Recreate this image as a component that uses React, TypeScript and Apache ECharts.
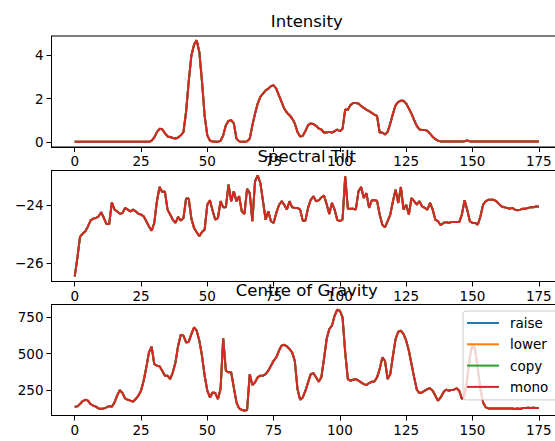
import React, { useEffect, useRef } from 'react';
import * as echarts from 'echarts';

// Frame index along the utterance (0..175)
const frames: number[] = Array.from({ length: 176 }, (_, i) => i);

const xTicks = [0, 25, 50, 75, 100, 125, 150, 175];

const intensity = [
  0, 0, 0, 0, 0, 0, 0, 0, 0, 0,
  0, 0, 0, 0, 0, 0, 0, 0, 0, 0,
  0, 0, 0, 0, 0, 0, 0, 0, 0, 0.05,
  0.2, 0.45, 0.6, 0.58, 0.4, 0.25, 0.22, 0.18, 0.15, 0.2,
  0.3, 0.45, 1.4, 2.8, 4.0, 4.5, 4.7, 4.15, 2.8, 1.2,
  0.3, 0.06, 0.01, 0, 0, 0.05, 0.3, 0.77, 0.97, 1.0,
  0.85, 0.15, 0.02, 0, 0, 0.02, 0.15, 0.77, 1.3, 1.77,
  2.08, 2.23, 2.38, 2.46, 2.58, 2.62, 2.46, 2.15, 1.85, 1.54,
  1.35, 1.23, 1.08, 0.85, 0.46, 0.25, 0.28, 0.5, 0.77, 0.85,
  0.83, 0.74, 0.62, 0.57, 0.43, 0.43, 0.46, 0.43, 0.49, 0.57,
  0.49, 0.6, 1.5, 1.48, 1.7, 1.8, 1.8, 1.77, 1.66, 1.57,
  1.49, 1.42, 1.34, 1.26, 1.2, 0.43, 0.43, 0.34, 0.46, 0.85,
  1.3, 1.69, 1.85, 1.9, 1.9, 1.77, 1.54, 1.3, 1.0, 0.74,
  0.57, 0.55, 0.55, 0.5, 0.38, 0.23, 0.12, 0.05, 0.02, 0.01,
  0.01, 0.01, 0.01, 0.01, 0.01, 0.01, 0.01, 0.03, 0.06, 0.02,
  0.01, 0.01, 0.01, 0.01, 0.01, 0.01, 0.01, 0.01, 0.01, 0.01,
  0.01, 0.01, 0.01, 0.01, 0.01, 0.01, 0.01, 0.01, 0.01, 0.01,
  0.01, 0.01, 0.01, 0.01, 0.01, 0.01,
];

const spectralTilt = [
  -26.46, -25.83, -25.1, -24.99, -24.91, -24.74, -24.53, -24.47, -24.45, -24.39,
  -24.25, -24.45, -24.66, -24.66, -23.91, -24.16, -24.22, -24.3, -24.28, -24.1,
  -24.16, -24.22, -24.16, -24.22, -24.3, -24.33, -24.39, -24.56, -24.74, -24.89,
  -24.62, -23.87, -23.38, -23.55, -23.53, -24.16, -24.33, -24.51, -24.62, -24.41,
  -24.54, -24.45, -23.78, -23.78, -24.47, -24.79, -24.94, -25.08, -24.93, -24.85,
  -23.99, -23.84, -24.2, -24.51, -24.45, -23.87, -24.08, -24.08, -23.3, -23.87,
  -23.53, -23.87, -23.7, -24.22, -24.31, -23.44, -23.59, -24.56, -23.18, -22.98,
  -23.24, -23.87, -24.51, -24.22, -24.56, -24.62, -24.28, -24.01, -23.87, -23.99,
  -24.16, -23.87, -24.08, -24.1, -24.1, -24.16, -24.54, -24.54, -24.1, -23.82,
  -23.7, -23.87, -23.84, -23.74, -23.67, -23.97, -24.31, -23.93, -24.16, -24.51,
  -24.56, -24.5, -23.01, -24.13, -24.13, -24.13, -24.16, -23.53, -23.38, -23.76,
  -23.59, -24.1, -23.84, -23.84, -23.85, -24.33, -24.68, -24.77, -24.56, -24.33,
  -23.87, -23.47, -23.93, -23.38, -24.16, -23.99, -24.33, -23.76, -23.87, -23.99,
  -23.87, -24.05, -24.1, -24.16, -23.93, -24.16, -24.51, -24.56, -24.7, -24.62,
  -24.59, -24.62, -24.59, -24.59, -24.59, -24.59, -24.33, -23.84, -24.16, -24.56,
  -24.62, -24.62, -24.68, -24.39, -23.99, -23.87, -23.82, -23.82, -23.82, -23.87,
  -23.97, -24.05, -24.08, -24.1, -24.13, -24.1, -24.16, -24.18, -24.16, -24.13,
  -24.13, -24.1, -24.08, -24.08, -24.05, -24.05,
];

const centreOfGravity = [
  139, 141, 157, 177, 186, 180, 157, 145, 139, 127,
  125, 127, 134, 143, 139, 168, 214, 252, 232, 195,
  186, 180, 173, 191, 214, 248, 316, 407, 509, 548,
  430, 418, 414, 384, 350, 350, 327, 373, 441, 555,
  630, 623, 577, 582, 634, 680, 657, 589, 486, 350,
  248, 202, 236, 232, 191, 259, 605, 384, 373, 373,
  270, 168, 127, 118, 111, 116, 361, 286, 305, 339,
  350, 350, 361, 384, 418, 452, 475, 520, 555, 561,
  550, 532, 509, 450, 260, 186, 202, 248, 305, 361,
  368, 339, 309, 339, 464, 600, 668, 691, 759, 800,
  793, 748, 509, 327, 316, 323, 327, 316, 305, 293,
  286, 300, 309, 311, 339, 395, 475, 452, 327, 361,
  486, 600, 650, 657, 634, 589, 520, 430, 339, 255,
  232, 236, 248, 259, 264, 248, 214, 180, 202, 236,
  255, 248, 252, 255, 264, 248, 191, 214, 327, 475,
  566, 532, 395, 259, 168, 134, 127, 127, 127, 127,
  127, 127, 127, 127, 127, 127, 123, 127, 123, 130,
  130, 132, 130, 132, 130, 130,
];

const seriesNames = ['raise', 'lower', 'copy', 'mono'];
const seriesColors = ['#1f77b4', '#ff7f0e', '#2ca02c', '#d62728'];

const panelTitles = ['Intensity', 'Spectral Tilt', 'Centre of Gravity'];
const panelValues = [intensity, spectralTilt, centreOfGravity];
const panelYTicks = [[0, 2, 4], [-26, -24], [250, 500, 750]];
const panelYRange = [[-0.24, 4.9], [-26.64, -22.81], [78.8, 835.6]];
const panelTops = [36, 170.5, 304.5];

const FONT = '"DejaVu Sans", "Liberation Sans", sans-serif';
const PLOT_LEFT = 51.5;
const PLOT_WIDTH = 510.5;
const PLOT_HEIGHT = 111;

export default function App() {
  const ref = useRef<HTMLDivElement>(null);

  useEffect(() => {
    if (!ref.current) return;
    const chart = echarts.init(ref.current, undefined, { renderer: 'svg' });

    const minus = (v: number) => String(v).replace('-', '\u2212');

    const grid = panelTops.map((top) => ({
      left: PLOT_LEFT,
      top,
      width: PLOT_WIDTH,
      height: PLOT_HEIGHT,
      show: true,
      borderColor: '#000',
      borderWidth: 1,
      backgroundColor: 'transparent',
      containLabel: false,
      outerBoundsMode: 'none',
    }));

    const tickStyle = { show: true, length: 5, lineStyle: { color: '#000', width: 1 } };
    const labelStyle = { color: '#000', fontSize: 13.5, fontFamily: FONT };
    const lineStyle = { show: true, onZero: false, lineStyle: { color: '#000', width: 1 } };

    const xAxis = panelTops.map((_, p) => ({
      type: 'value',
      gridIndex: p,
      min: -8.75,
      max: 183.75,
      axisLine: lineStyle,
      axisTick: { ...tickStyle, customValues: xTicks },
      axisLabel: { ...labelStyle, margin: 7, customValues: xTicks, formatter: minus },
      splitLine: { show: false },
    }));

    const yAxis = panelTops.map((_, p) => ({
      type: 'value',
      gridIndex: p,
      min: panelYRange[p][0],
      max: panelYRange[p][1],
      axisLine: lineStyle,
      axisTick: { ...tickStyle, customValues: panelYTicks[p] },
      axisLabel: { ...labelStyle, margin: 8, customValues: panelYTicks[p], formatter: minus },
      splitLine: { show: false },
    }));

    const series: any[] = [];
    panelValues.forEach((values, p) => {
      seriesNames.forEach((name, k) => {
        series.push({
          type: 'line',
          name,
          xAxisIndex: p,
          yAxisIndex: p,
          data: frames.map((i) => [i, values[i]]),
          showSymbol: false,
          symbol: 'none',
          silent: true,
          color: seriesColors[k],
          lineStyle: { width: 2, color: seriesColors[k] },
          itemStyle: { color: seriesColors[k] },
        });
      });
    });

    const graphic = panelTitles.map((text, p) => ({
      type: 'text',
      x: PLOT_LEFT + PLOT_WIDTH / 2,
      y: panelTops[p] - 14.5,
      z: 10,
      style: {
        text,
        fill: '#000',
        fontSize: 16.5,
        fontFamily: FONT,
        align: 'center',
        verticalAlign: 'middle',
        textAlign: 'center',
        textVerticalAlign: 'middle',
      },
    }));

    chart.setOption({
      animation: false,
      backgroundColor: '#fff',
      grid,
      xAxis,
      yAxis,
      series,
      graphic,
      legend: {
        orient: 'vertical',
        left: 463,
        top: 311,
        data: seriesNames,
        icon: 'rect',
        itemWidth: 32,
        itemHeight: 2,
        itemGap: 7.3,
        padding: [5, 40, 6, 4],
        selectedMode: false,
        backgroundColor: 'rgba(255,255,255,0.8)',
        borderColor: '#cccccc',
        borderWidth: 1,
        borderRadius: 3,
        textStyle: {
          color: '#000',
          fontSize: 13.5,
          fontFamily: FONT,
          lineHeight: 14,
          padding: [0, 0, 0, 6],
        },
      },
    });

    return () => chart.dispose();
  }, []);

  return (
    <div
      ref={ref}
      style={{ position: 'fixed', left: 0, top: 0, width: 555, height: 441 }}
    />
  );
}
